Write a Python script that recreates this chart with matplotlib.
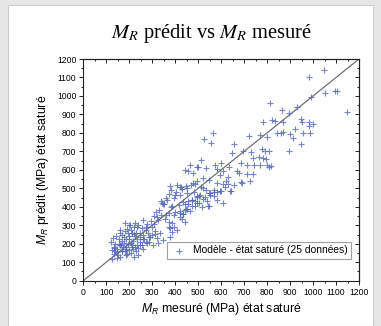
import matplotlib
matplotlib.use("Agg")
import matplotlib.pyplot as plt
from matplotlib.patches import Rectangle
from matplotlib.ticker import MultipleLocator
import numpy as np

plt.rcParams['font.family'] = ['Liberation Sans', 'DejaVu Sans']
plt.rcParams['mathtext.fontset'] = 'custom'
plt.rcParams['mathtext.it'] = 'Liberation Sans:italic'
plt.rcParams['mathtext.rm'] = 'Liberation Sans'

mesure = [
    # lower-left cluster
    143, 161, 178, 193, 207, 222, 233, 248, 207, 187, 161, 135, 125, 140, 167, 190, 216, 248, 271, 291,
    201, 178, 164, 146, 132, 146, 167, 187, 213, 233, 254, 277, 303, 323, 207, 230, 262, 161, 187, 132,
    126, 236, 146, 219, 225, 259, 285, 248, 271, 277, 300, 294, 262, 274, 155, 170, 185, 200, 215, 230,
    245, 260, 175, 195, 210, 150, 180, 200, 225, 240, 265, 280, 255, 235, 210, 190, 170, 155, 140, 120,
    130, 285, 300, 310, 320, 240, 220, 200, 160, 180, 204, 225, 181,
    # middle band
    378, 410, 381, 404, 422, 372, 396, 430, 451, 338, 349, 364, 387, 416, 433, 454, 317, 329, 306, 338,
    358, 375, 396, 422, 445, 323, 355, 372, 378, 393, 430, 312, 335, 349, 378, 387, 399, 361, 343, 352,
    320, 309, 381, 399, 419, 436, 451, 375, 387, 407, 422, 442, 471, 494, 517, 538, 547, 483, 503, 523,
    493, 448, 427, 419, 468, 488, 535, 494,
    494, 509, 529, 485, 454, 474, 503, 546, 442, 465, 433, 442, 584, 601, 639, 552, 570,
    # 450-800
    526, 564, 555, 654, 720, 770, 801, 648, 697, 729, 738, 764, 784, 796, 688, 712, 743, 770, 801, 601,
    572, 514, 465, 442, 454, 477, 500, 581, 607, 633, 668, 677, 596, 630, 619, 584, 546, 523, 477, 512,
    535, 567, 593, 616, 645, 688, 712, 740, 497, 523, 474, 488, 451, 552, 584, 607,
    610, 630, 654, 543, 691, 726, 567,
    # upper right
    984, 1048, 1054, 1094, 1106, 1149, 990, 932, 894, 865, 813, 822, 833, 784, 871, 949, 952, 981, 1001, 981,
    842, 859, 871, 920, 900, 958, 987, 911, 946, 897, 810, 816, 778, 790, 807,
]
predit = [
    242, 260, 235, 256, 274, 253, 224, 238, 206, 184, 191, 184, 166, 159, 163, 145, 173, 191, 209, 238,
    227, 206, 191, 173, 177, 155, 159, 170, 191, 195, 191, 202, 191, 202, 148, 159, 173, 130, 141, 145,
    119, 137, 121, 126, 242, 227, 238, 256, 274, 307, 292, 321, 329, 292, 200, 215, 225, 240, 215, 260,
    210, 250, 180, 200, 185, 140, 160, 165, 180, 175, 225, 260, 285, 290, 260, 280, 245, 225, 200, 210,
    230, 210, 250, 270, 230, 300, 290, 300, 275, 270, 303, 310, 310,
    513, 516, 491, 480, 462, 469, 448, 494, 502, 433, 415, 437, 404, 411, 426, 433, 372, 383, 350, 357,
    354, 368, 357, 368, 386, 329, 332, 318, 285, 292, 336, 253, 256, 220, 238, 264, 466, 448, 419, 415,
    347, 307, 401, 372, 379, 361, 386, 292, 311, 274, 343, 415, 437, 419, 401, 430, 473, 480, 458, 502,
    541, 512, 509, 505, 516, 523, 610, 617,
    455, 466, 451, 430, 415, 404, 419, 404, 383, 376, 361, 318, 480, 484, 487, 477, 459,
    769, 798, 747, 740, 783, 787, 776, 693, 704, 697, 664, 671, 664, 657, 635, 628, 628, 628, 628, 639,
    628, 653, 628, 599, 592, 581, 617, 603, 592, 617, 596, 581, 570, 563, 541, 527, 545, 556, 527, 509,
    491, 480, 487, 505, 487, 534, 577, 577, 458, 444, 437, 404, 473, 462, 437, 422,
    523, 523, 520, 404, 530, 538, 491,
    1104, 1140, 1014, 1029, 1025, 913, 993, 938, 906, 924, 964, 870, 866, 859, 859, 877, 859, 859, 848, 837,
    801, 801, 805, 819, 794, 801, 801, 772, 740, 700, 700, 621, 715, 700, 617,
]
limite = [0, 1200]

fig = plt.figure(figsize=(3.81, 3.26), dpi=100)
fig.patch.set_facecolor('#e6e6e6')
# white panel behind everything
fig.add_artist(Rectangle((8 / 381, 0), 365 / 381, 321 / 326, transform=fig.transFigure,
                         facecolor='white', edgecolor='#cccccc', linewidth=0.8, zorder=-10))

ax = fig.add_axes([0.2186, 0.139, 0.7237, 0.680])
ax.set_facecolor('white')
ax.plot(limite, limite, color='#707070', lw=0.9, zorder=2)
ax.scatter(mesure, predit, marker='+', s=15, linewidths=0.8, color='#5466bb', alpha=0.8,
           zorder=3, label='Modèle - état saturé (25 données)')

ax.set_xlim(0, 1200)
ax.set_ylim(0, 1200)
ax.xaxis.set_major_locator(MultipleLocator(100))
ax.yaxis.set_major_locator(MultipleLocator(100))
ax.xaxis.set_minor_locator(MultipleLocator(50))
ax.yaxis.set_minor_locator(MultipleLocator(50))
ax.tick_params(which='major', direction='out', length=3, width=0.6, labelsize=6.2, pad=2)
ax.tick_params(which='minor', direction='out', length=1.6, width=0.6)
for s in ax.spines.values():
    s.set_linewidth(0.8)
    s.set_color('#222222')

# mirrored ticks pointing inwards on top/right
top = ax.secondary_xaxis('top')
right = ax.secondary_yaxis('right')
for sec, axis in ((top, top.xaxis), (right, right.yaxis)):
    axis.set_major_locator(MultipleLocator(100))
    axis.set_minor_locator(MultipleLocator(50))
    sec.tick_params(which='major', direction='in', length=3, width=0.6, labelsize=0)
    sec.tick_params(which='minor', direction='in', length=1.6, width=0.6)
    axis.set_ticklabels([])
    for s in sec.spines.values():
        s.set_linewidth(0.8)
        s.set_color('#222222')

ax.set_xlabel(r'$M_R$ mesuré (MPa) état saturé', fontsize=8.8, labelpad=3)
ax.set_ylabel(r'$M_R$ prédit (MPa) état saturé', fontsize=8.8, labelpad=4)

fig.text(0.556, 0.896, r'$M_R$ prédit vs $M_R$ mesuré', family='Liberation Serif',
         math_fontfamily='stix', fontsize=14.8, ha='center', va='center')

leg = ax.legend(loc='lower right', bbox_to_anchor=(0.97, 0.10), fontsize=7.4, scatterpoints=1,
                fancybox=False, edgecolor='#888888', borderpad=0.3, handletextpad=0.6,
                handlelength=1.6, borderaxespad=0)
leg.get_frame().set_linewidth(0.8)

fig.savefig('out.png', dpi=100, facecolor=fig.get_facecolor())
